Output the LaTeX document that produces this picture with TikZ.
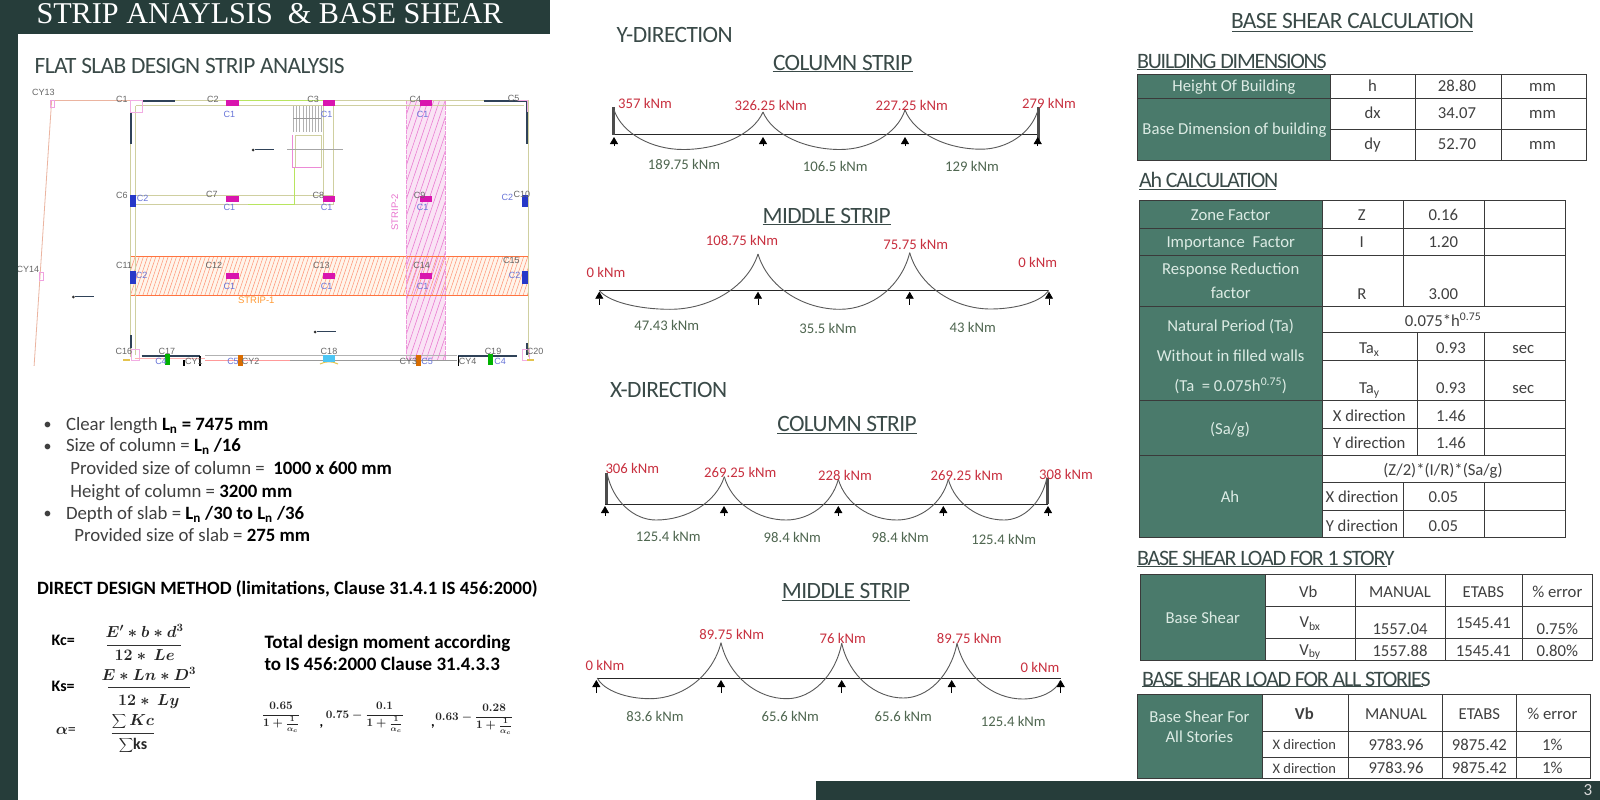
\documentclass[tikz,border=0pt]{standalone}
\usepackage{fix-cm}
\usepackage{fontspec}
\setmainfont{Carlito}
\newfontfamily\titlefont{Liberation Serif}
\newfontfamily\hdfont[LetterSpace=-2.5]{Carlito}
\newfontfamily\hdtight[LetterSpace=-5.5]{Carlito}
\newfontfamily\plainsans{Liberation Sans}
\usetikzlibrary{arrows.meta}
\definecolor{barcol}{HTML}{263D3A}
\definecolor{hdcol}{HTML}{3A4A48}
\definecolor{cellgreen}{HTML}{4A7A6B}
\definecolor{celltext}{HTML}{DCEBE4}
\definecolor{bodycol}{HTML}{404040}
\definecolor{redlab}{HTML}{C8303F}
\definecolor{greenlab}{HTML}{4F6650}
\definecolor{gridcol}{HTML}{3A3A3A}
\definecolor{mag}{HTML}{D915AE}
\definecolor{bluec}{HTML}{2638C8}
\definecolor{navyw}{HTML}{2F4258}
\definecolor{khaki}{HTML}{CFCFA0}
\definecolor{yel}{HTML}{D8E070}
\newcommand\fs[1]{\fontsize{#1}{#1}\selectfont}
\newcounter{tn}
\newcommand\T[4][]{\stepcounter{tn}\node[lab,#1] (t\arabic{tn}) at (#2,#3) {#4};}
\newcommand\sag[6]{\draw[sagline] (#1,#2) .. controls ({#1+0.12*(#3-#1)},{#2+0.6*(#4-#2)}) and ({#3-0.45*(#3-#1)},#4) .. (#3,#4) .. controls ({#3+0.45*(#5-#3)},#4) and ({#5-0.12*(#5-#3)},{#6+0.6*(#4-#6)}) .. (#5,#6);}
\newcounter{sn}
\newcommand\supp[3]{\stepcounter{sn}\coordinate (s\arabic{sn}a) at (#1,#2);\coordinate (s\arabic{sn}b) at (#1,#3);\draw[suparrow] (s\arabic{sn}b) -- (s\arabic{sn}a);}
\newcommand\beam[5][]{\stepcounter{sn}\coordinate (b\arabic{sn}a) at (#2,#3);\coordinate (b\arabic{sn}b) at (#4,#5);\draw[beamline,#1] (b\arabic{sn}a) -- (b\arabic{sn}b);}
\newcommand\colm[5]{\fill[#1] ({#2-#4/2},{#3-#5/2}) rectangle ({#2+#4/2},{#3+#5/2});}
\newcommand\hlines[3]{\foreach \yy in {#3} {\draw[gridl] (#1,\yy) -- (#2,\yy);}}
\tikzset{
 x=1pt,y=-1pt,
 lab/.style={inner sep=0pt,outer sep=0pt,text height=0.7em,text depth=0.2em,yshift=-1.2pt},
 sagline/.style={draw=black!65,line width=0.9pt},
 beamline/.style={draw=black!85,line width=0.9pt},
 wall/.style={draw=black!70,line width=3pt},
 suparrow/.style={draw=black,line width=0.8pt,-{Triangle[length=7pt,width=8pt]}},
 gridl/.style={draw=gridcol,line width=0.8pt},
 redt/.style={text=redlab,node font=\fs{14.7}},
 grnt/.style={text=greenlab,node font=\fs{14.7}},
 head/.style={text=hdcol,node font=\hdfont\fs{23.4},yshift=-1pt},
 headb/.style={text=hdcol,node font=\hdtight\fs{22},anchor=west,yshift=-1pt},
 underl/.style={draw=hdcol,line width=0.9pt},
 cell/.style={text=bodycol,node font=\fs{16.7}},
 gcell/.style={text=celltext,node font=\fs{16.7}},
 body/.style={text=bodycol,node font=\fs{18.8},anchor=west},
 bbody/.style={text=black,node font=\bfseries\fs{18.8},anchor=west},
 plt/.style={text=black!60,node font=\plainsans\fs{9}},
 plb/.style={text=bluec!70!white,node font=\plainsans\fs{9}},
 mth/.style={text=black!85,node font=\fs{16}\boldmath},
 mbar/.style={draw=black!80,line width=0.8pt},
 smf/.style={text=black!85,node font=\fs{11.5}\boldmath,text height=,text depth=},
}
\begin{document}
\begin{tikzpicture}
\useasboundingbox (0,0) rectangle (1600,800);
\fill[white] (0,0) rectangle (1600,800);
% frame bars
\fill[barcol] (0,0) rectangle (550,34);
\fill[barcol] (0,0) rectangle (17.9,800);
\fill[barcol] (816,781) rectangle (1600,800);
\T[text=white,node font=\titlefont\fs{30.2},anchor=west]{36.5}{14.5}{STRIP ANAYLSIS\ \ \& BASE SHEAR}
\T[text=white!85!black,node font=\fs{17}]{1588}{790}{3}
\T[head,anchor=west]{34.7}{65}{FLAT SLAB DESIGN STRIP ANALYSIS}
% plan
\begin{scope}
\clip (18,85) rectangle (550,365);
\begin{scope}[x=1.0333pt]
\draw[draw=red!30!brown!45!white,line width=0.8pt] (50,100) -- (126,100);
\draw[draw=red!30!brown!45!white,line width=0.8pt] (50,100) -- (33,366);
\draw[draw=mag!40!white,line width=0.6pt] (49,100) rectangle (53,107);
\draw[draw=mag!40!white,line width=0.6pt] (38,272) rectangle (42,280);
% strips
\fill[orange!8] (126,256.7) rectangle (511.5,295.5);
\fill[mag!12] (393.3,100) rectangle (431,360.5);
\begin{scope}
\clip (126,256.7) rectangle (511.5,295.5);
\foreach \i in {0,...,100} {\draw[draw=red!55!orange!55!white,line width=0.5pt] ({118+4*\i},296) -- ({131+4*\i},256);}
\end{scope}
\begin{scope}
\clip (393.3,100) rectangle (431,360.5);
\foreach \i in {-17,...,8} {\draw[draw=mag!55!white,line width=0.6pt] ({390+5.5*\i},361) -- ({390+5.5*\i+85},100);}
\end{scope}
\draw[draw=red!45!orange!75!white,line width=0.7pt] (126,256.7) rectangle (511.5,295.5);
\draw[draw=mag!45!white,line width=0.7pt,dash pattern=on 4pt off 1pt] (393.3,100) rectangle (431,360.5);
% walls outlines
\foreach \a/\b/\c/\d in {126/100/511/100,131.5/105.5/507/105.5,126/100/126/357,131.5/105.5/131.5/355,511/100/511/357,313/105.5/313/204,323/105.5/323/204,131.5/195/323/195,131.5/204/323/204}{\draw[draw=khaki,line width=0.8pt] (\a,\b) -- (\c,\d);}
\draw[draw=yel!85!green,line width=1pt] (231,100.5) -- (313,100.5);
\draw[draw=yel!85!green,line width=1pt] (285,168) -- (285,204) -- (240,204);
% stair and lift
\foreach \i in {0,...,9}{\draw[draw=black!30,line width=0.4pt] ({284+3*\i},106) -- ({284+3*\i},132);}
\draw[draw=black!40,line width=0.4pt] (284,118) -- (311,118);
\draw[draw=khaki,line width=0.8pt] (286,135) rectangle (311,167);
\draw[draw=mag!50!white,line width=0.5pt] (283,135) -- (283,167) -- (311,167);
\draw[draw=black!35,line width=0.4pt] (278,149.5) -- (332,149.5);
% thick walls
\foreach \a/\b/\c/\d in {138/101/169/101,468/101/510/101,510/101/510/144,127/112/127/144,127/335/127/348,510/343/510/355}{\draw[draw=navyw,line width=1.6pt] (\a,\b) -- (\c,\d);}
% corners
\draw[draw=mag!35!white,line width=0.7pt] (126,100) rectangle (138,112);
\draw[draw=mag!35!white,line width=0.7pt] (500,100) -- (510,100) -- (510,112);
% columns
\foreach \x in {225,318.5,412}{\foreach \y in {102.5,198.5,276}{\colm{mag}{\x}{\y}{12}{6}}}
\colm{bluec}{129}{200.5}{6}{12}
\colm{bluec}{129}{277.5}{6}{13}
\colm{bluec}{508}{200.5}{6}{12}
\colm{bluec}{508}{277.5}{6}{13}
% reference marks
\foreach \x/\y/\w in {245/150/20,71/297/20,305/332/20}{\fill[black!80] (\x,\y) circle (1.5);\draw[draw=navyw,line width=0.8pt] (\x+2,\y-1) -- (\x+\w,\y-1);}
% plan labels
\foreach \tx/\ty/\tt in {42/92/CY13,27/269/CY14,118/99/C1,206/99/C2,303/99/C3,402/99/C4,497/98/C5,118/195/C6,205/194/C7,308/195/C8,406/195/C9,505/194/C10,120/265/C11,207/265/C12,311/265/C13,408/265/C14,495/260/C15}{\T[plt]{\tx}{\ty}{\tt}}
\foreach \tx/\ty/\tt in {222/114/C1,316/114/C1,409/114/C1,222/207/C1,316/207/C1,409/207/C1,222/286/C1,316/286/C1,409/286/C1,138/198/C2,137/275/C2,498/275/C2,491/197/C2}{\T[plb]{\tx}{\ty}{\tt}}
\T[text=mag!60!white,node font=\plainsans\fs{9.5},rotate=90]{383}{211}{STRIP-2}
\T[text=orange!80!white,node font=\plainsans\fs{9.5}]{248}{300}{STRIP-1}
\end{scope}
% bottom row of the plan
\draw[draw=mag!35!white,line width=0.7pt] (131,349) rectangle (139,360);
\draw[draw=mag!35!white,line width=0.7pt] (522,349) rectangle (529,360);
\draw[draw=red!30!white,line width=0.8pt] (135,358.5) -- (205,358.5);
\draw[draw=black!30,line width=0.8pt] (205,355) -- (457,355);
\draw[draw=red!40!white,line width=0.8pt] (205,360) -- (290,360);
\draw[draw=black!40,line width=0.8pt] (290,360) -- (457,360);
\draw[draw=navyw,line width=1.6pt] (141.7,355.7) -- (200,355.7);
\draw[draw=navyw,line width=1.6pt] (458.3,355.7) -- (516.7,355.7);
\draw[draw=black,line width=1.2pt] (200,356) -- (200,366);
\draw[draw=black,line width=1.2pt] (458.3,356) -- (458.3,366);
\draw[draw=black,line width=1.2pt] (184,360) -- (184,366);
\draw[draw=yel!70!orange,line width=1.5pt] (123,360) -- (130,360);
\draw[draw=yel!70!orange,line width=1.5pt] (527,360) -- (534,360);
\draw[draw=yel!70!orange,line width=1pt] (320,364) .. controls (326,361) and (332,361) .. (338,364);
\colm{green!70!black}{167.7}{359}{5}{11}
\colm{green!70!black}{490.7}{359}{5}{11}
\colm{orange!85!black}{240.3}{360}{4.5}{11}
\colm{orange!85!black}{418.3}{360}{4.5}{11}
\colm{cyan!70!white}{329}{358}{12}{7}
\foreach \tx/\ty/\tt in {124/351/C16,167/351/C17,329/351/C18,493/351/C19,535/351/C20,194/361/CY1,250.7/361/CY2,408.3/361/CY3,467.7/361/CY4}{\T[plt]{\tx}{\ty}{\tt}}
\foreach \tx/\ty/\tt in {161/361/C4,233/361/C5,427/361/C5,500/361/C4}{\T[plb]{\tx}{\ty}{\tt}}
\end{scope}
% bullets
\foreach \yy in {424,446,513.5}{\T[text=bodycol,node font=\fs{16}]{47.7}{\yy}{•}}
\T[body]{66}{424.3}{Clear length \textcolor{black}{\bfseries L\textsubscript{n} = 7475 mm}}
\T[body]{66}{446}{Size of column = \textcolor{black}{\bfseries L\textsubscript{n} /16}}
\T[body]{70.3}{468.3}{Provided size of column =\ \ \textcolor{black}{\bfseries 1000 x 600 mm}}
\T[body]{70.3}{491.7}{Height of column = \textcolor{black}{\bfseries 3200 mm}}
\T[body]{66}{513.7}{Depth of slab = \textcolor{black}{\bfseries L\textsubscript{n} /30 to L\textsubscript{n} /36}}
\T[body]{74.3}{536}{Provided size of slab = \textcolor{black}{\bfseries 275 mm}}
\T[bbody]{37}{588.3}{DIRECT DESIGN METHOD (limitations, Clause 31.4.1 IS 456:2000)}
% formulas
\begin{scope}[x=1.0333pt]
\T[text=black,node font=\bfseries\fs{16},anchor=west]{50}{640}{Kc=}
\T[text=black,node font=\bfseries\fs{16},anchor=west]{50}{686.7}{Ks=}
\T[mth,anchor=west]{54}{729}{$\alpha$=}
\T[mth]{140}{632.3}{$E'*b*d^3$}
\T[mth]{140}{655.7}{$12*\ Le$}
\coordinate (kca) at (104,645);\coordinate (kcb) at (175,645);\draw[mbar] (kca) -- (kcb);
\T[mth]{144}{675}{$E*Ln*D^3$}
\T[mth]{144}{700.3}{$12*\ Ly$}
\coordinate (ksa) at (105,687.7);\coordinate (ksb) at (184,687.7);\draw[mbar] (ksa) -- (ksb);
\T[mth]{128.7}{720.7}{$\displaystyle\sum Kc$}
\T[mth]{128.7}{744.3}{$\displaystyle\sum$\bfseries ks}
\coordinate (ala) at (108,733);\coordinate (alb) at (149,733);\draw[mbar] (ala) -- (alb);
\T[text=black,node font=\bfseries\fs{19},anchor=west]{256}{642.7}{Total design moment according}
\T[text=black,node font=\bfseries\fs{19},anchor=west]{256}{664.3}{to IS 456:2000 Clause 31.4.3.3}
\T[smf]{272}{716}{$\displaystyle\frac{0.65}{1+\frac{1}{\alpha_c}}$}
\T[text=black,node font=\bfseries\fs{14}]{311}{721.7}{,}
\T[smf]{353}{716}{$0.75-\displaystyle\frac{0.1}{1+\frac{1}{\alpha_c}}$}
\T[text=black,node font=\bfseries\fs{14}]{419}{721.7}{,}
\T[smf]{459}{718}{$0.63-\displaystyle\frac{0.28}{1+\frac{1}{\alpha_c}}$}
\end{scope}
% middle column headings
\T[head,anchor=west]{616.7}{34}{Y-DIRECTION}
\T[head]{842.7}{62.3}{COLUMN STRIP}
\coordinate (u1a) at (772.7,71.7);\coordinate (u1b) at (912.7,71.7);\draw[underl] (u1a) -- (u1b);
\T[head]{826.7}{215}{MIDDLE STRIP}
\coordinate (u2a) at (762.7,224.3);\coordinate (u2b) at (890.7,224.3);\draw[underl] (u2a) -- (u2b);
\T[head,anchor=west]{610}{389}{X-DIRECTION}
\T[head]{847}{423.3}{COLUMN STRIP}
\coordinate (u3a) at (777.3,433);\coordinate (u3b) at (917,433);\draw[underl] (u3a) -- (u3b);
\T[head]{846}{590}{MIDDLE STRIP}
\coordinate (u4a) at (781.7,600.3);\coordinate (u4b) at (910,600.3);\draw[underl] (u4a) -- (u4b);
% Y column strip
\beam{613}{134.7}{1038}{134.7}
\beam[wall]{613}{107}{613}{134.7}
\beam[wall]{1038.5}{107}{1038.5}{140}
\sag{614}{110}{683}{149.5}{763}{112}
\sag{763}{112}{840}{149.5}{905}{110}
\sag{905}{110}{981}{149.2}{1038}{110}
\foreach \x in {614,763,905,1037.7}{\supp{\x}{137}{146}}
\foreach \x/\y/\t in {645/103.3/357 kNm,770.7/106/326.25 kNm,911.7/105.3/227.25 kNm,1049/103.3/279 kNm}{\T[redt]{\x}{\y}{\t}}
\foreach \x/\y/\t in {684/164.7/189.75 kNm,835.3/166.7/106.5 kNm,972/166.7/129 kNm}{\T[grnt]{\x}{\y}{\t}}
% Y middle strip
\beam{599.3}{290.3}{1048.3}{290.3}
\sag{599.3}{290.3}{670}{309.3}{758}{254}
\sag{758}{254}{840}{309.3}{909.7}{252.7}
\sag{909.7}{252.7}{990.7}{309}{1048.7}{290.3}
\foreach \x in {599.3,758,909.7,1049}{\supp{\x}{291.7}{304.5}}
\foreach \x/\y/\t in {742/240.7/108.75 kNm,915.7/245/75.75 kNm,606/272.7/0 kNm,1037.7/263/0 kNm}{\T[redt]{\x}{\y}{\t}}
\foreach \x/\y/\t in {666.7/325.7/47.43 kNm,828/328.7/35.5 kNm,972.7/327.3/43 kNm}{\T[grnt]{\x}{\y}{\t}}
% X column strip
\beam{605}{504}{1047.7}{504}
\beam[wall]{606}{473}{606}{504}
\beam[wall]{1047.7}{478}{1047.7}{504}
\sag{607}{473.3}{656}{520}{724.3}{476.7}
\sag{724.3}{476.7}{786}{520}{838.3}{479.3}
\sag{838.3}{479.3}{896.7}{520}{948.3}{479.3}
\sag{948.3}{479.3}{1004}{520}{1047}{477.3}
\foreach \x in {605,724,838.3,943.3,1048}{\supp{\x}{506}{515.5}}
\foreach \x/\y/\t in {632.3/468.3/306 kNm,740.3/472.3/269.25 kNm,845/475.3/228 kNm,966.7/475.3/269.25 kNm,1066/474.7/308 kNm}{\T[redt]{\x}{\y}{\t}}
\foreach \x/\y/\t in {668.3/537/125.4 kNm,792.3/538/98.4 kNm,900.3/538/98.4 kNm,1003.7/540/125.4 kNm}{\T[grnt]{\x}{\y}{\t}}
% X middle strip
\beam{597.3}{678.7}{1061}{678.7}
\sag{597.3}{678}{650}{698.7}{721}{642.7}
\sag{721}{642.7}{786.7}{698.7}{841.7}{643.3}
\sag{841.7}{643.3}{903.3}{698}{957}{643.3}
\sag{957}{643.3}{1022.7}{699}{1060.3}{680.7}
\foreach \x in {596.3,721,841.7,951.7,1060.7}{\supp{\x}{680}{693}}
\foreach \x/\y/\t in {731.7/634.3/89.75 kNm,842.7/638.7/76 kNm,969.3/638.7/89.75 kNm,605/666/0 kNm,1040/667.3/0 kNm}{\T[redt]{\x}{\y}{\t}}
\foreach \x/\y/\t in {655/716.7/83.6 kNm,790.3/716.7/65.6 kNm,903.3/716.7/65.6 kNm,1013.3/721.3/125.4 kNm}{\T[grnt]{\x}{\y}{\t}}
% right column headings
\T[head]{1352.5}{20.5}{BASE SHEAR CALCULATION}
\coordinate (u5a) at (1232,31);\coordinate (u5b) at (1473,31);\draw[underl] (u5a) -- (u5b);
\T[headb]{1137}{61}{BUILDING DIMENSIONS}
\coordinate (u6a) at (1137,69.5);\coordinate (u6b) at (1323,69.5);\draw[underl] (u6a) -- (u6b);
\T[headb]{1139}{180}{Ah CALCULATION}
\coordinate (u7a) at (1139,189);\coordinate (u7b) at (1276,189);\draw[underl] (u7a) -- (u7b);
\T[headb]{1137}{557.3}{BASE SHEAR LOAD FOR 1 STORY}
\coordinate (u8a) at (1137,566.7);\coordinate (u8b) at (1387,566.7);\draw[underl] (u8a) -- (u8b);
\T[headb]{1142}{678.3}{BASE SHEAR LOAD FOR ALL STORIES}
\coordinate (u9a) at (1142,686);\coordinate (u9b) at (1423,686);\draw[underl] (u9a) -- (u9b);
% table 1
\fill[cellgreen] (1137,74.3) rectangle (1330.7,160.7);
\hlines{1137}{1586.7}{74.3,160.7}
\hlines{1137}{1586.7}{98.7}
\hlines{1330.7}{1586.7}{129.3}
\foreach \x in {1137,1330.7,1415.3,1501,1586.7}{\draw[gridl] (\x,74.3) -- (\x,160.7);}
\T[gcell]{1234}{86}{Height Of Building}
\T[gcell]{1234.5}{129}{Base Dimension of building}
\foreach \y/\a/\b in {86/h/28.80,113.3/dx/34.07,144/dy/52.70}{\T[cell]{1372.5}{\y}{\a}\T[cell]{1457}{\y}{\b}\T[cell]{1542.5}{\y}{mm}}
% table 2
\fill[cellgreen] (1139,200.7) rectangle (1322.7,537.7);
\hlines{1139}{1565.7}{200.7,228.3,255.3,306.3,400.3,455.3,537.7}
\hlines{1322.7}{1565.7}{332.7,360.7,428.3,482.3,510.3}
\draw[gridl] (1139,200.7) -- (1139,537.7);
\draw[gridl] (1322.7,200.7) -- (1322.7,537.7);
\draw[gridl] (1565.7,200.7) -- (1565.7,537.7);
\draw[gridl] (1403.3,200.7) -- (1403.3,306.3);
\draw[gridl] (1484.3,200.7) -- (1484.3,306.3);
\draw[gridl] (1417.3,332.7) -- (1417.3,455.3);
\draw[gridl] (1484.3,332.7) -- (1484.3,455.3);
\draw[gridl] (1403.3,482.3) -- (1403.3,537.7);
\draw[gridl] (1484.3,482.3) -- (1484.3,537.7);
\T[gcell]{1230.7}{215}{Zone Factor}
\T[gcell]{1230.7}{242.3}{Importance\ \ Factor}
\T[gcell]{1230.7}{268.7}{Response Reduction}
\T[gcell]{1230.7}{293.3}{factor}
\T[gcell]{1230.7}{325.7}{Natural Period (Ta)}
\T[gcell]{1230.7}{355.7}{Without in filled walls}
\T[gcell]{1230.7}{386}{(Ta\ \ = 0.075h\textsuperscript{0.75})}
\T[gcell]{1230}{429.3}{(Sa/g)}
\T[gcell]{1230}{497.3}{Ah}
\T[cell]{1361.7}{215}{Z}\T[cell]{1443.3}{215}{0.16}
\T[cell]{1361.7}{242.3}{I}\T[cell]{1443.3}{242.3}{1.20}
\T[cell]{1362}{294}{R}\T[cell]{1443.3}{294}{3.00}
\T[cell]{1443}{320.7}{0.075*h\textsuperscript{0.75}}
\T[cell]{1369.3}{348.3}{Ta\textsubscript{x}}\T[cell]{1451}{348.3}{0.93}\T[cell]{1523.3}{348.3}{sec}
\T[cell]{1369.3}{388.3}{Ta\textsubscript{y}}\T[cell]{1451}{388.3}{0.93}\T[cell]{1523.3}{388.3}{sec}
\T[cell]{1369.3}{416}{X direction}\T[cell]{1451}{416}{1.46}
\T[cell]{1369.3}{443.3}{Y direction}\T[cell]{1451}{443.3}{1.46}
\T[cell]{1443}{470}{(Z/2)*(I/R)*(Sa/g)}
\T[cell]{1362}{497.3}{X direction}\T[cell]{1443.3}{497.3}{0.05}
\T[cell]{1362}{525.7}{Y direction}\T[cell]{1443.3}{525.7}{0.05}
% table 3
\fill[cellgreen] (1140,574) rectangle (1265,660.7);
\hlines{1140}{1592.3}{574,660.7}
\hlines{1265}{1592.3}{606.7,638.3}
\foreach \x in {1140,1265,1355,1445.7,1522.7,1592.3}{\draw[gridl] (\x,574) -- (\x,660.7);}
\T[gcell]{1202.7}{618.3}{Base Shear}
\T[cell]{1308.3}{591.7}{Vb}\T[cell]{1400}{591.7}{MANUAL}\T[cell]{1483.3}{591.7}{ETABS}\T[cell]{1557.3}{591.7}{\% error}
\T[cell]{1310}{622.3}{V\textsubscript{bx}}\T[cell]{1400}{628.7}{1557.04}\T[cell]{1483.3}{623.3}{1545.41}\T[cell]{1557.3}{628.7}{0.75\%}
\T[cell]{1310}{650}{V\textsubscript{by}}\T[cell]{1400}{650.7}{1557.88}\T[cell]{1483.3}{650.7}{1545.41}\T[cell]{1557.3}{650.7}{0.80\%}
% table 4
\fill[cellgreen] (1137.7,694) rectangle (1262,778.7);
\hlines{1137.7}{1590}{694,778.7}
\hlines{1262}{1590}{731.7,757}
\foreach \x in {1137.7,1262,1348.3,1442.7,1516,1590}{\draw[gridl] (\x,694) -- (\x,778.7);}
\T[gcell]{1199.3}{716.7}{Base Shear For}
\T[gcell]{1199.3}{736.7}{All Stories}
\T[cell,node font=\bfseries\fs{16.7}]{1304.3}{714.3}{Vb}\T[cell]{1396}{714.3}{MANUAL}\T[cell]{1479.3}{714.3}{ETABS}\T[cell]{1552.3}{714.3}{\% error}
\foreach \y in {745,768.3}{\T[cell,node font=\fs{14.5}]{1304.3}{\y}{X direction}\T[cell]{1396}{\y}{9783.96}\T[cell]{1479.3}{\y}{9875.42}\T[cell]{1552.3}{\y}{1\%}}
\end{tikzpicture}
\end{document}
